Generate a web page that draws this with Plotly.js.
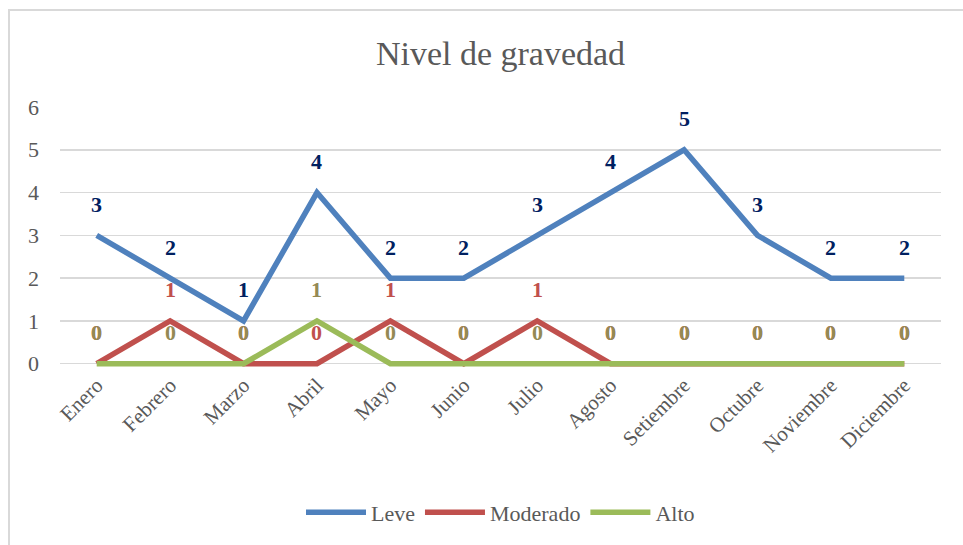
<!DOCTYPE html>
<html>
<head>
<meta charset="utf-8">
<script src="https://cdn.plot.ly/plotly-3.0.1.min.js"></script>
<style>html,body{margin:0;padding:0;background:#fff;} #chart{width:963px;height:545px;}</style>
</head>
<body>
<div id="chart"></div>
<script>
const months = ["Enero","Febrero","Marzo","Abril","Mayo","Junio","Julio","Agosto","Setiembre","Octubre","Noviembre","Diciembre"];
const leve = [3,2,1,4,2,2,3,4,5,3,2,2];
const moderado = [0,1,0,0,1,0,1,0,0,0,0,0];
const alto = [0,0,0,1,0,0,0,0,0,0,0,0];
const seriesNames = ["Leve","Moderado","Alto"];
const lineColors = ["#4F81BD","#C0504D","#9BBB59"];
const labelColors = ["#002060","#C0504D","#948A54"];
const yTicks = [0,1,2,3,4,5,6];

const allSeries = [leve, moderado, alto];
const traces = allSeries.map((vals, i) => ({
  x: months, y: vals, type: "scatter", mode: "lines", name: seriesNames[i],
  line: {color: lineColors[i], width: 5.5}, cliponaxis: false
}));

const annotations = [];
allSeries.forEach((vals, i) => {
  vals.forEach((v, j) => {
    annotations.push({
      x: months[j], y: v, xref: "x", yref: "y", text: "<b>" + v + "</b>",
      showarrow: false, yshift: 31,
      font: {family: "Liberation Serif", size: 22, color: labelColors[i]}
    });
  });
});

const layout = {
  width: 963, height: 545,
  margin: {l: 60, r: 22, t: 107, b: 176.7},
  paper_bgcolor: "#fff", plot_bgcolor: "#fff",
  title: {text: "Nivel de gravedad", font: {family: "Liberation Serif", size: 34, color: "#595959"},
          x: 0.5, xref: "paper", xanchor: "center", y: 1 - 53/545, yref: "container", yanchor: "middle"},
  xaxis: {type: "category", range: [-0.5, 11.5], showgrid: false, zeroline: false, showline: false,
          tickangle: -45, tickfont: {family: "Liberation Serif", size: 21, color: "#595959"}, ticks: "", fixedrange: true},
  yaxis: {range: [-0.1, 6], tickvals: yTicks, ticktext: yTicks.map(String), showgrid: true, gridcolor: "#d9d9d9", gridwidth: 1.5,
          zeroline: false, showline: false, ticks: "", ticklabelstandoff: 20,
          tickfont: {family: "Liberation Serif", size: 22, color: "#595959"}, fixedrange: true},
  legend: {orientation: "h", x: 0.5, xanchor: "center", y: (368.3-513)/261.3, yanchor: "middle",
           font: {family: "Liberation Serif", size: 22, color: "#595959"}, itemwidth: 60},
  annotations: annotations,
  shapes: [{type: "rect", xref: "paper", yref: "paper", x0: -51/881, x1: 1.2, y0: -1, y1: (368.3-10)/261.3,
            line: {color: "#d9d9d9", width: 2}, layer: "below"}]
};

Plotly.newPlot("chart", traces, layout, {displayModeBar: false, staticPlot: true});
</script>
</body>
</html>
